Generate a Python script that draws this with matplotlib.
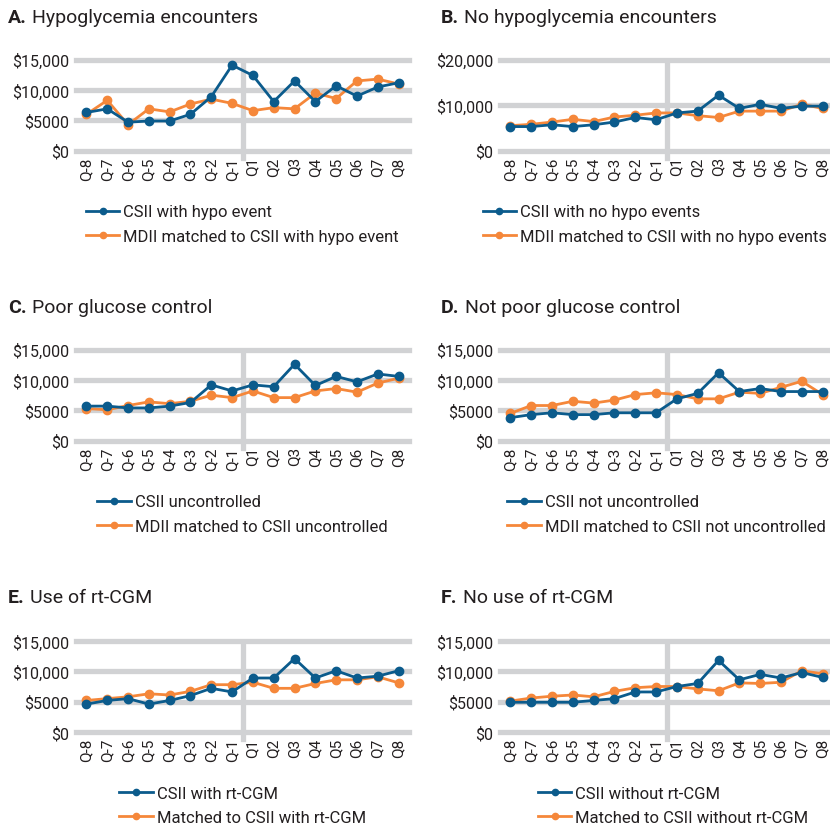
import matplotlib.pyplot as plt
import numpy as np

plt.rcParams['font.family'] = ['Roboto', 'DejaVu Sans']
plt.rcParams['text.color'] = '#231f20'

quarters = ['Q-8', 'Q-7', 'Q-6', 'Q-5', 'Q-4', 'Q-3', 'Q-2', 'Q-1',
            'Q1', 'Q2', 'Q3', 'Q4', 'Q5', 'Q6', 'Q7', 'Q8']

# A. Hypoglycemia encounters
a_csii = [6300, 6900, 4700, 4900, 4900, 6000, 8900, 14100,
          12400, 8100, 11500, 8100, 10700, 9000, 10500, 11200]
a_mdii = [6000, 8300, 4300, 6900, 6400, 7700, 8500, 7800,
          6600, 7100, 6900, 9500, 8600, 11500, 11800, 11000]
# B. No hypoglycemia encounters
b_csii = [5300, 5300, 5700, 5300, 5700, 6300, 7300, 6800,
          8300, 8700, 12200, 9300, 10200, 9300, 9800, 9800]
b_mdii = [5500, 5800, 6300, 6900, 6400, 7400, 7800, 8300,
          8300, 7700, 7300, 8700, 8700, 8700, 10200, 9300]
# C. Poor glucose control
c_csii = [5700, 5700, 5400, 5400, 5700, 6300, 9200, 8200,
          9200, 8900, 12600, 9100, 10600, 9700, 11000, 10600]
c_mdii = [5300, 5100, 5800, 6400, 6100, 6500, 7500, 7100,
          8200, 7100, 7100, 8200, 8600, 8000, 9500, 10300]
# D. Not poor glucose control
d_csii = [3800, 4300, 4600, 4300, 4300, 4600, 4600, 4600,
          6900, 7800, 11200, 8100, 8600, 8100, 8100, 8100]
d_mdii = [4500, 5800, 5800, 6500, 6200, 6700, 7600, 7900,
          7600, 6900, 6900, 8000, 7800, 8800, 9800, 7600]
# E. Use of rt-CGM
e_csii = [4600, 5200, 5500, 4600, 5200, 6000, 7200, 6600,
          8900, 8900, 12100, 8900, 10100, 8900, 9200, 10100]
e_mdii = [5200, 5500, 5800, 6300, 6100, 6700, 7800, 7800,
          8200, 7200, 7200, 8000, 8600, 8600, 9100, 8100]
# F. No use of rt-CGM
f_csii = [4900, 4900, 4900, 4900, 5200, 5500, 6600, 6600,
          7500, 8000, 11800, 8600, 9500, 8900, 9800, 9000]
f_mdii = [5100, 5600, 5900, 6100, 5800, 6700, 7300, 7500,
          7500, 7100, 6800, 8100, 8000, 8200, 10100, 9600]

letters = ['A.', 'B.', 'C.', 'D.', 'E.', 'F.']
titles = ['Hypoglycemia encounters', 'No hypoglycemia encounters',
          'Poor glucose control', 'Not poor glucose control',
          'Use of rt-CGM', 'No use of rt-CGM']
csii_labels = ['CSII with hypo event', 'CSII with no hypo events',
               'CSII uncontrolled', 'CSII not uncontrolled',
               'CSII with rt-CGM', 'CSII without rt-CGM']
mdii_labels = ['MDII matched to CSII with hypo event',
               'MDII matched to CSII with no hypo events',
               'MDII matched to CSII uncontrolled',
               'MDII matched to CSII not uncontrolled',
               'Matched to CSII with rt-CGM',
               'Matched to CSII without rt-CGM']
csii_data = [a_csii, b_csii, c_csii, d_csii, e_csii, f_csii]
mdii_data = [a_mdii, b_mdii, c_mdii, d_mdii, e_mdii, f_mdii]
ymax = [15000, 20000, 15000, 15000, 15000, 15000]

blue = '#0b5b8c'
orange = '#f5873a'
grey = '#d1d2d4'

W, H = 830, 828
fig = plt.figure(figsize=(W / 100, H / 100), dpi=100)

# pixel positions (left, top of max gridline, bottom of $0 gridline)
lefts = [76, 500]
tops = [60.7, 350.7, 642]
bottoms = [151.7, 441.7, 733]
title_x = [8, 441]
title_y = [18, 308, 598]
legend_x = [0.5, 0.465, 0.5, 0.5, 0.5, 0.52]

x = np.arange(len(quarters))
renderer = fig.canvas.get_renderer()

for i in range(6):
    row, col = i // 2, i % 2
    l = lefts[col] / W
    b = 1 - bottoms[row] / H
    h = (bottoms[row] - tops[row]) / H
    ax = fig.add_axes([l, b, 333 / W, h])

    ax.plot(x, mdii_data[i], color=orange, lw=2, marker='o', ms=6, zorder=3,
            label=mdii_labels[i])
    ax.plot(x, csii_data[i], color=blue, lw=2, marker='o', ms=6, zorder=4,
            label=csii_labels[i])

    ax.set_xlim(-0.5, 15.5)
    ax.set_ylim(0, ymax[i])
    yt = [0, 5000, 10000, 15000] if ymax[i] == 15000 else [0, 10000, 20000]
    ax.set_yticks(yt)
    ax.set_yticklabels(['$0' if v == 0 else ('$5000' if v == 5000 else '${:,}'.format(v))
                        for v in yt])
    ax.set_xticks(x)
    ax.set_xticklabels(quarters, rotation=90)
    ax.tick_params(axis='both', length=0, colors='#231f20')
    ax.tick_params(axis='y', labelsize=11.5, pad=5)
    ax.tick_params(axis='x', labelsize=11, pad=4)

    for s in ax.spines.values():
        s.set_visible(False)
    for v in yt:
        ax.axhline(v, color=grey, lw=3.8, zorder=1, clip_on=False)
    ax.axvline(7.5, ymin=-0.08, ymax=0.98, color=grey, lw=3.8, zorder=1, clip_on=False)

    hs, ls = ax.get_legend_handles_labels()
    ax.legend(hs[::-1], ls[::-1], loc='upper center', bbox_to_anchor=(legend_x[i], -0.59),
              frameon=False, fontsize=12, numpoints=1, handlelength=2.0,
              handletextpad=0.25, labelspacing=0.55, markerscale=0.75,
              borderpad=0, borderaxespad=0)

    t = fig.text(title_x[col] / W, 1 - title_y[row] / H, letters[i],
                 fontsize=14, fontweight='bold', va='center', ha='left')
    bb = t.get_window_extent(renderer)
    fig.text(bb.x1 / W + 5 / W, 1 - title_y[row] / H, titles[i],
             fontsize=14, va='center', ha='left')

fig.savefig('out.png', dpi=100)
